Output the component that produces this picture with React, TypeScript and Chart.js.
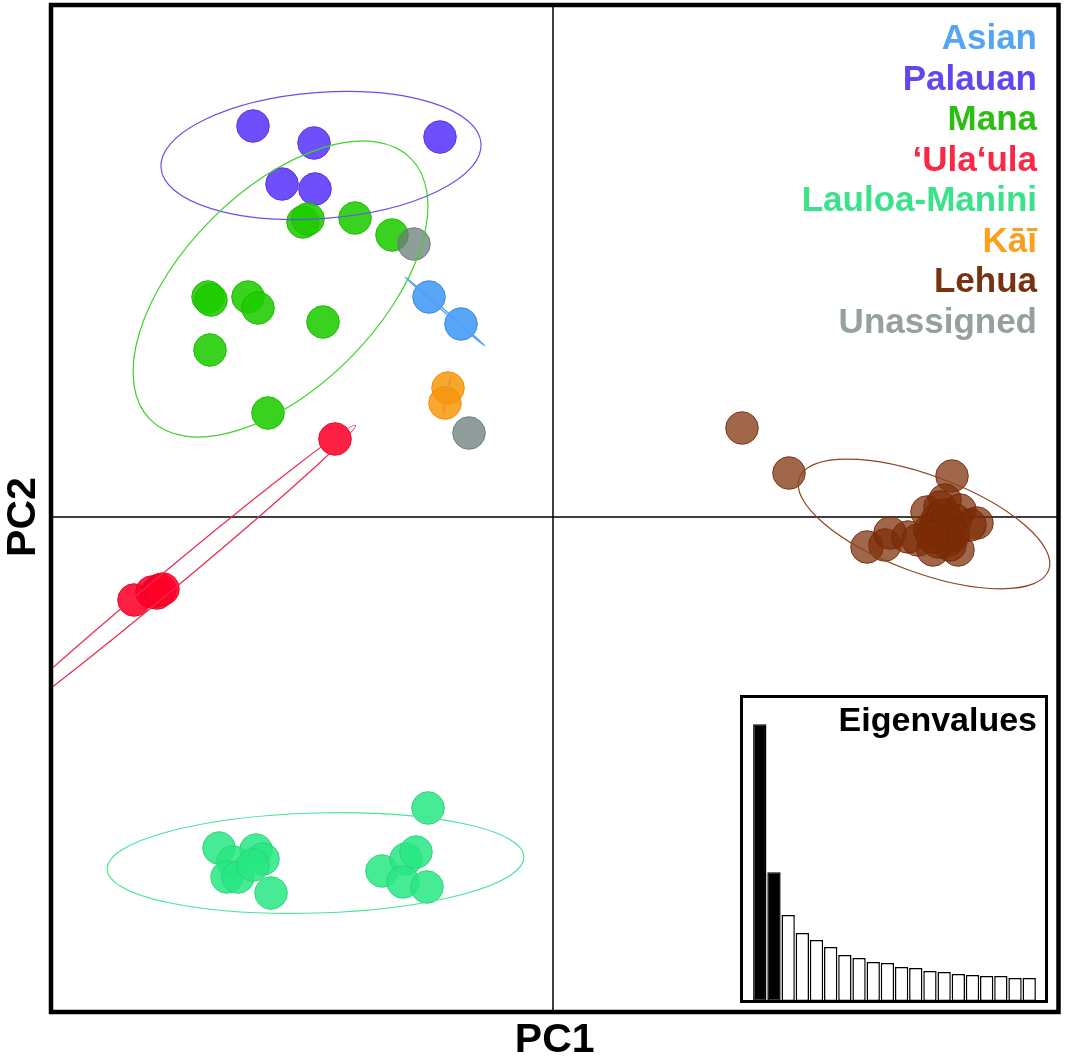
import React, { useEffect, useRef } from "react";
import { Chart, registerables } from "chart.js";

Chart.register(...registerables);

// ---------- data ----------
const groupNames = ["Asian", "Palauan", "Mana", "‘Ula‘ula", "Lauloa-Manini", "Kāī", "Lehua", "Unassigned"];

const asianPoints: [number, number][] = [[-0.248, 0.44], [-0.184, 0.386]];
const palauanPoints: [number, number][] = [[-0.6, 0.782], [-0.478, 0.748], [-0.226, 0.76], [-0.542, 0.666], [-0.476, 0.656]];
const manaPoints: [number, number][] = [
  [-0.5, 0.59], [-0.49, 0.596], [-0.396, 0.598], [-0.322, 0.564], [-0.69, 0.44], [-0.684, 0.434],
  [-0.61, 0.44], [-0.59, 0.418], [-0.46, 0.39], [-0.686, 0.334], [-0.57, 0.208],
];
const ulaulaPoints: [number, number][] = [[-0.436, 0.156], [-0.838, -0.166], [-0.802, -0.15], [-0.792, -0.152], [-0.786, -0.146], [-0.78, -0.144]];
const lauloaPoints: [number, number][] = [
  [-0.25, -0.582], [-0.668, -0.662], [-0.594, -0.666], [-0.58, -0.684], [-0.64, -0.69], [-0.652, -0.72],
  [-0.63, -0.72], [-0.6, -0.696], [-0.564, -0.752], [-0.342, -0.708], [-0.294, -0.684], [-0.274, -0.67],
  [-0.3, -0.73], [-0.252, -0.74],
];
const kaiPoints: [number, number][] = [[-0.21, 0.258], [-0.216, 0.228]];
const lehuaPoints: [number, number][] = [
  [0.378, 0.178], [0.472, 0.088], [0.798, 0.082], [0.784, 0.034], [0.748, 0.01], [0.774, 0.02], [0.814, 0.014],
  [0.628, -0.06], [0.664, -0.056], [0.674, -0.032], [0.71, -0.04], [0.73, -0.046], [0.76, -0.066], [0.81, -0.066],
  [0.848, -0.012], [0.834, -0.016], [0.768, -0.006], [0.784, -0.016], [0.794, -0.026], [0.774, -0.036],
  [0.79, -0.046], [0.764, -0.022], [0.804, -0.006], [0.782, 0.004], [0.754, -0.026], [0.794, -0.056],
  [0.778, -0.028], [0.788, -0.01], [0.77, -0.05], [0.8, -0.036], [0.76, -0.04],
];
const unassignedPoints: [number, number][] = [[-0.278, 0.546], [-0.168, 0.168]];

const groupPoints = [asianPoints, palauanPoints, manaPoints, ulaulaPoints, lauloaPoints, kaiPoints, lehuaPoints, unassignedPoints];

// ellipse parameters (PC units, angle in degrees counter-clockwise); null = no ellipse
const ellipseCenterX = [-0.216, -0.464, -0.545, -0.764, -0.475, -0.212, 0.742, null];
const ellipseCenterY = [0.411, 0.723, 0.456, -0.124, -0.692, 0.243, -0.014, null];
const ellipseSemiA = [0.106, 0.321, 0.369, 0.48, 0.417, 0.038, 0.266, null];
const ellipseSemiB = [0.002, 0.126, 0.196, 0.019, 0.1, 0.002, 0.097, null];
const ellipseAngle = [-40.8, 4.4, 45.2, 39.8, 1.7, 77.8, -20.3, null];

const eigenLabels = ["1", "2", "3", "4", "5", "6", "7", "8", "9", "10", "11", "12", "13", "14", "15", "16", "17", "18", "19", "20"];
const eigenValues = [27.7, 12.9, 8.6, 6.8, 6.1, 5.4, 4.6, 4.3, 3.9, 3.8, 3.4, 3.3, 3.0, 2.9, 2.7, 2.6, 2.5, 2.5, 2.3, 2.3];
const eigenRetained = 2;

// ---------- styles ----------
const pointFill = [
  "rgba(60,150,245,0.85)", "rgba(90,55,250,0.88)", "rgba(30,205,0,0.88)", "rgba(255,0,40,0.88)",
  "rgba(40,232,130,0.85)", "rgba(248,150,10,0.85)", "rgba(125,45,5,0.72)", "rgba(105,125,122,0.75)",
];
const pointEdge = [
  "rgba(50,130,230,0.9)", "rgba(80,45,230,0.9)", "rgba(30,180,0,0.9)", "rgba(230,0,40,0.9)",
  "rgba(40,210,120,0.9)", "rgba(235,140,10,0.9)", "rgba(110,40,5,0.85)", "rgba(100,118,116,0.85)",
];
const lineColors = ["#50a0f5", "#6a4ff0", "#3cd228", "#f0284a", "#46e696", "#f09628", "#8c461e", "#969f9f"];
const textColors = ["#55a5f5", "#6446f0", "#2dbe14", "#fa2846", "#3ce18c", "#faa01e", "#783210", "#96a0a0"];

const FONT = "'Liberation Sans', Arial, Helvetica, sans-serif";

const mainPlugin = {
  id: "pcaDecor",
  beforeDatasetsDraw(chart: any) {
    const { ctx, chartArea: ca, scales } = chart;
    const x0 = scales.x.getPixelForValue(0);
    const y0 = scales.y.getPixelForValue(0);
    ctx.save();
    ctx.strokeStyle = "#000";
    ctx.lineWidth = 1.5;
    ctx.beginPath();
    ctx.moveTo(x0, ca.top);
    ctx.lineTo(x0, ca.bottom);
    ctx.moveTo(ca.left, y0);
    ctx.lineTo(ca.right, y0);
    ctx.stroke();
    ctx.restore();
  },
  afterDatasetsDraw(chart: any) {
    const { ctx, chartArea: ca, scales } = chart;
    const sx = Math.abs(scales.x.getPixelForValue(1) - scales.x.getPixelForValue(0));
    const sy = Math.abs(scales.y.getPixelForValue(1) - scales.y.getPixelForValue(0));
    ctx.save();
    ctx.beginPath();
    ctx.rect(ca.left, ca.top, ca.width, ca.height);
    ctx.clip();
    for (let i = 0; i < groupNames.length; i++) {
      const cx = ellipseCenterX[i];
      if (cx === null) continue;
      const px = scales.x.getPixelForValue(cx);
      const py = scales.y.getPixelForValue(ellipseCenterY[i] as number);
      ctx.beginPath();
      ctx.ellipse(px, py, (ellipseSemiA[i] as number) * sx, (ellipseSemiB[i] as number) * sy, -((ellipseAngle[i] as number) * Math.PI) / 180, 0, Math.PI * 2);
      ctx.strokeStyle = lineColors[i];
      ctx.lineWidth = 1.2;
      ctx.stroke();
    }
    ctx.restore();
  },
  afterDraw(chart: any) {
    const { ctx, chartArea: ca } = chart;
    ctx.save();
    // frame
    ctx.strokeStyle = "#000";
    ctx.lineWidth = 4.5;
    ctx.strokeRect(ca.left, ca.top, ca.width, ca.height);
    // legend
    ctx.font = `bold 35px ${FONT}`;
    ctx.textAlign = "right";
    ctx.textBaseline = "alphabetic";
    for (let i = 0; i < groupNames.length; i++) {
      ctx.fillStyle = textColors[i];
      ctx.fillText(groupNames[i], 1037, 49 + i * 40.5);
    }
    // axis titles
    ctx.fillStyle = "#000";
    ctx.font = `bold 41px ${FONT}`;
    ctx.textAlign = "center";
    ctx.fillText("PC1", (ca.left + ca.right) / 2, 1052);
    ctx.save();
    ctx.translate(35, chart.scales.y.getPixelForValue(0));
    ctx.rotate(-Math.PI / 2);
    ctx.fillText("PC2", 0, 0);
    ctx.restore();
    ctx.restore();
  },
};

const insetPlugin = {
  id: "insetDecor",
  beforeDraw(chart: any) {
    const { ctx, width, height } = chart;
    ctx.save();
    ctx.fillStyle = "#fff";
    ctx.fillRect(0, 0, width, height);
    ctx.restore();
  },
  afterDraw(chart: any) {
    const { ctx, width, height } = chart;
    ctx.save();
    ctx.strokeStyle = "#000";
    ctx.lineWidth = 3;
    ctx.strokeRect(1.5, 1.5, width - 3, height - 3);
    ctx.fillStyle = "#000";
    ctx.font = `bold 34px ${FONT}`;
    ctx.textAlign = "right";
    ctx.fillText("Eigenvalues", width - 11, 36);
    ctx.restore();
  },
};

export default function App() {
  const mainRef = useRef<HTMLCanvasElement>(null);
  const insetRef = useRef<HTMLCanvasElement>(null);

  useEffect(() => {
    const n = groupNames.length;
    const main = new Chart(mainRef.current as HTMLCanvasElement, {
      type: "scatter",
      data: {
        datasets: groupNames.map((name, i) => ({
          label: name,
          data: groupPoints[i].map(([x, y]) => ({ x, y })),
          backgroundColor: pointFill[i],
          borderColor: pointEdge[i],
          borderWidth: 1,
          pointRadius: 16.3,
          pointHoverRadius: 16.3,
          order: n - i,
        })),
      },
      options: {
        responsive: false,
        animation: false,
        events: [],
        layout: { autoPadding: false, padding: { left: 51, right: 8.5, top: 5, bottom: 46 } },
        plugins: { legend: { display: false }, tooltip: { enabled: false } },
        scales: {
          x: { type: "linear", min: -1.004, max: 1.011, display: false },
          y: { type: "linear", min: -0.99, max: 1.024, display: false },
        },
      },
      plugins: [mainPlugin],
    });

    const inset = new Chart(insetRef.current as HTMLCanvasElement, {
      type: "bar",
      data: {
        labels: eigenLabels,
        datasets: [
          {
            data: eigenValues,
            backgroundColor: eigenValues.map((_, i) => (i < eigenRetained ? "#000" : "#fff")),
            borderColor: "#000",
            borderWidth: 1.5,
            borderSkipped: false,
            barPercentage: 0.94,
            categoryPercentage: 1,
          },
        ],
      },
      options: {
        responsive: false,
        animation: false,
        events: [],
        layout: { autoPadding: false, padding: { left: 12.7, right: 11.7, top: 16.3, bottom: 2 } },
        plugins: { legend: { display: false }, tooltip: { enabled: false } },
        scales: {
          x: { type: "category", display: false },
          y: { min: 0, max: 29, display: false },
        },
      },
      plugins: [insetPlugin],
    });

    return () => {
      main.destroy();
      inset.destroy();
    };
  }, []);

  return (
    <div style={{ position: "absolute", left: 0, top: 0, width: 1067, height: 1058, background: "#fff" }}>
      <canvas ref={mainRef} width={1067} height={1058} style={{ position: "absolute", left: 0, top: 0, width: 1067, height: 1058 }} />
      <canvas ref={insetRef} width={308} height={308} style={{ position: "absolute", left: 740, top: 695, width: 308, height: 308 }} />
    </div>
  );
}
